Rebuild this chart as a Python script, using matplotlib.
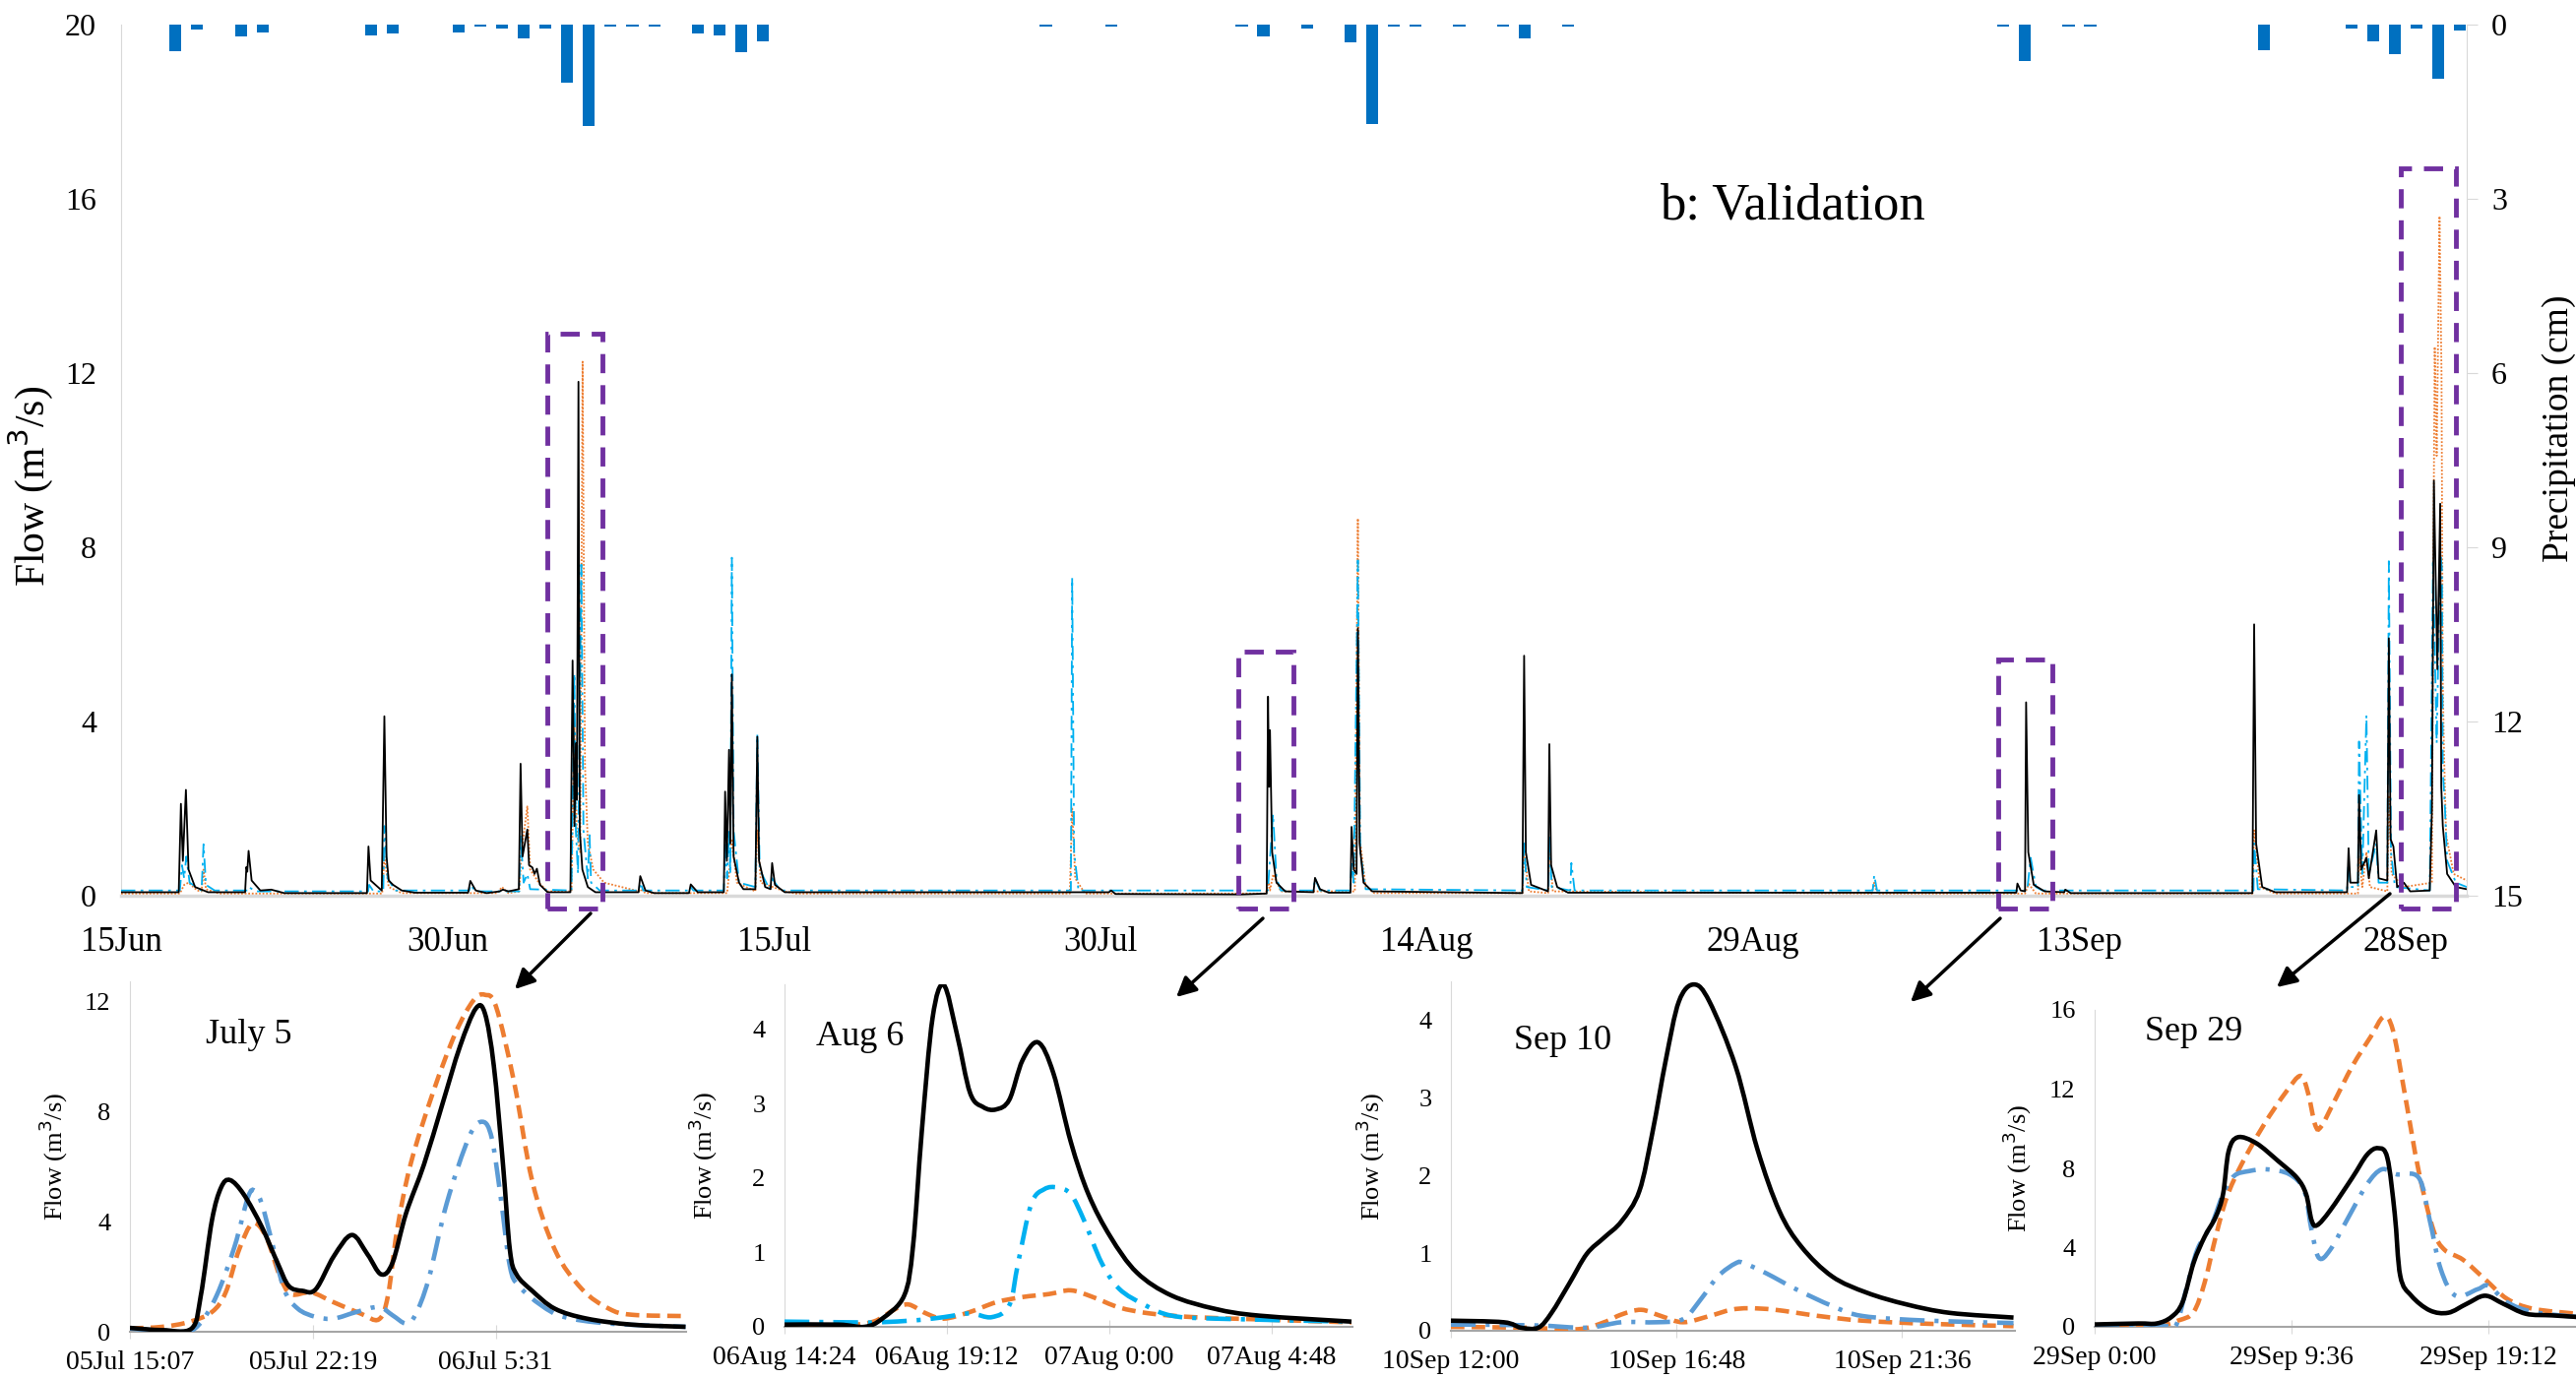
import matplotlib
matplotlib.use("Agg")
import matplotlib.pyplot as plt
from matplotlib.patches import Rectangle, PathPatch
from matplotlib.path import Path

plt.rcParams['font.family'] = ['Liberation Serif', 'DejaVu Serif']

# --- colours ---
C_OBS = "#000000"
C_MOD1 = "#00B0F0"
C_MOD1_INSET = "#5B9BD5"
C_MOD2 = "#ED7D31"
C_RAIN = "#0070C0"
C_BOX = "#7030A0"
C_AXIS = "#D9D9D9"

# --- main panel: days since 15 Jun ---
tick_days = [0, 15, 30, 45, 60, 75, 90, 105]
tick_labels = ["15Jun", "30Jun", "15Jul", "30Jul", "14Aug", "29Aug", "13Sep", "28Sep"]

rain_day = [2, 3, 5, 6, 11, 12, 15, 16, 17, 18, 19, 20, 21, 22, 23, 24, 26, 27, 28, 29,
            42, 45, 51, 52, 54, 56, 57, 58, 59, 61, 63, 64, 66, 86, 87, 89, 90, 98,
            102, 103, 104, 105, 106, 107]
rain_cm = [0.46, 0.09, 0.21, 0.14, 0.19, 0.16, 0.14, 0.03, 0.06, 0.24, 0.06, 1.0, 1.74,
           0.03, 0.03, 0.03, 0.16, 0.19, 0.48, 0.29,
           0.03, 0.03, 0.03, 0.21, 0.06, 0.31, 1.72, 0.03, 0.03, 0.03, 0.03, 0.24, 0.03,
           0.03, 0.62, 0.03, 0.03, 0.44, 0.06, 0.28, 0.51, 0.06, 0.94, 0.1]

obs_day = [0, 2.65, 2.75, 2.84, 2.98, 3.1, 3.4, 4.0, 5.7, 5.76, 5.8, 5.86, 6.0, 6.4, 6.9, 7.5,
           11.3, 11.37, 11.47, 11.98, 12.1, 12.2, 12.3, 12.4, 12.5, 12.9, 13.5,
           15.95, 16.05, 16.3, 16.8, 17.4, 17.55, 17.8, 18.28, 18.36, 18.45, 18.67, 18.75,
           18.9, 19.0, 19.11, 19.25, 19.6, 20.65, 20.75, 20.84, 20.9, 20.95, 21.02, 21.08,
           21.2, 21.45, 21.8, 23.78, 23.86, 24.1, 24.5, 26.1, 26.18, 26.5,
           27.7, 27.76, 27.84, 27.94, 28.0, 28.07, 28.15, 28.4, 28.6, 29.15, 29.24, 29.32,
           29.6, 29.85, 29.92, 30.05, 30.5, 45.4, 45.5, 45.7, 51.5,
           52.65, 52.71, 52.76, 52.8, 52.9, 53.1, 53.5, 54.8, 54.87, 55.1, 55.5,
           56.5, 56.55, 56.65, 56.78, 56.84, 56.92, 57.1, 57.5,
           64.4, 64.48, 64.56, 64.8, 65.58, 65.64, 65.72, 66.0, 66.5,
           87.1, 87.15, 87.3, 87.5, 87.55, 87.65, 87.9, 88.4, 89.3, 89.35, 89.6,
           97.95, 98.03, 98.12, 98.4, 99.0,
           102.3, 102.37, 102.45, 102.8, 102.85, 102.95, 103.19, 103.3, 103.64, 103.75,
           104.15, 104.22, 104.3, 104.43, 104.6, 104.91, 105.2,
           106.1, 106.2, 106.29, 106.45, 106.58, 106.63, 106.7, 106.9, 107.3, 107.8]
obs_flow = [0.08, 0.08, 2.11, 0.8, 2.43, 0.6, 0.2, 0.08, 0.08, 0.66, 0.55, 1.03, 0.35, 0.12, 0.14, 0.06,
            0.06, 1.13, 0.35, 0.12, 4.12, 0.9, 0.35, 0.3, 0.25, 0.12, 0.07,
            0.07, 0.34, 0.12, 0.06, 0.1, 0.14, 0.1, 0.15, 3.03, 0.9, 1.52, 0.7,
            0.65, 0.5, 0.62, 0.25, 0.08, 0.08, 5.4, 1.6, 3.5, 2.2, 11.8, 1.5,
            0.6, 0.2, 0.08, 0.08, 0.45, 0.12, 0.06, 0.06, 0.26, 0.08,
            0.08, 2.39, 0.8, 3.35, 1.2, 5.08, 0.9, 0.3, 0.15, 0.15, 3.65, 0.8,
            0.2, 0.15, 0.75, 0.25, 0.08, 0.08, 0.12, 0.04, 0.03,
            0.05, 4.57, 2.5, 3.8, 1.0, 0.3, 0.1, 0.08, 0.41, 0.15, 0.07,
            0.07, 1.58, 0.6, 0.5, 6.14, 1.2, 0.3, 0.1,
            0.06, 5.51, 1.0, 0.25, 0.1, 3.48, 0.7, 0.2, 0.07,
            0.07, 0.28, 0.12, 0.1, 4.44, 1.0, 0.25, 0.1, 0.08, 0.14, 0.06,
            0.06, 6.23, 1.2, 0.2, 0.08,
            0.08, 1.09, 0.3, 0.3, 2.31, 0.6, 0.87, 0.4, 1.5, 0.4,
            0.35, 5.91, 1.3, 1.13, 0.2, 0.3, 0.1,
            0.12, 2.0, 9.53, 5.2, 9.0, 2.5, 1.6, 0.5, 0.2, 0.15]

mod1_day = [0, 2.7, 2.8, 2.9, 3.0, 3.15, 3.7, 3.79, 3.9, 4.3, 5.8, 5.86, 6.2,
            11.35, 11.4, 11.6, 12.05, 12.1, 12.25, 12.6, 16.0, 16.05, 16.3,
            18.3, 18.36, 18.5, 18.67, 18.8, 20.7, 20.83, 20.9, 21.0, 21.15, 21.25, 21.45,
            21.53, 21.6, 22.0, 23.8, 23.86, 24.0, 26.1, 26.18, 26.3,
            27.7, 27.76, 27.85, 27.94, 28.0, 28.07, 28.15, 28.4, 29.15, 29.24, 29.35,
            29.8, 29.92, 30.3, 43.65, 43.71, 43.8, 44.0,
            52.7, 52.94, 53.1, 53.3, 54.8, 54.87, 55.1, 56.5, 56.55, 56.65, 56.84, 56.95, 57.2,
            64.4, 64.48, 64.6, 65.6, 65.64, 65.75, 66.6, 66.65, 66.8, 80.5, 80.57, 80.7,
            87.6, 87.76, 88.0, 88.3, 98.0, 98.03, 98.2,
            102.3, 102.37, 102.45, 102.8, 102.85, 103.0, 103.19, 103.3, 103.64, 103.75,
            104.15, 104.22, 104.32, 104.5,
            106.1, 106.25, 106.42, 106.58, 106.66, 106.7, 106.8, 106.9, 107.3, 107.8]
mod1_flow = [0.12, 0.12, 0.7, 0.4, 0.9, 0.3, 0.12, 1.18, 0.25, 0.12, 0.12, 0.2, 0.1,
             0.1, 0.25, 0.1, 0.1, 1.6, 0.4, 0.12, 0.12, 0.25, 0.1,
             0.1, 1.4, 0.3, 0.5, 0.15, 0.12, 5.1, 1.5, 0.5, 7.6, 1.5, 0.4,
             1.39, 0.3, 0.12, 0.12, 0.3, 0.12, 0.12, 0.2, 0.12,
             0.12, 1.2, 0.4, 1.5, 0.5, 7.76, 1.5, 0.3, 0.2, 3.7, 0.6,
             0.15, 0.4, 0.12, 0.12, 7.3, 1.0, 0.12,
             0.12, 1.87, 0.4, 0.12, 0.12, 0.4, 0.12, 0.12, 0.8, 0.3, 7.7, 1.0, 0.15,
             0.12, 1.2, 0.2, 0.12, 1.4, 0.2, 0.12, 0.75, 0.12, 0.12, 0.47, 0.12,
             0.12, 0.87, 0.2, 0.12, 0.12, 1.2, 0.15,
             0.12, 0.8, 0.2, 0.2, 3.54, 0.5, 4.14, 0.5, 1.2, 0.3,
             0.3, 7.68, 1.0, 0.2,
             0.12, 7.65, 3.5, 7.95, 7.5, 2.9, 2.0, 0.8, 0.3, 0.2]

mod2_day = [0, 2.7, 2.9, 3.1, 3.5, 3.7, 3.79, 3.9, 4.5, 12.0, 12.1, 12.3, 12.9, 17.3, 17.5, 17.8,
            18.3, 18.4, 18.67, 18.8, 19.2, 19.6, 20.7, 20.83, 20.95, 21.1, 21.21, 21.32,
            21.45, 21.7, 22.2, 23.8, 23.86, 24.1, 27.85, 27.94, 28.07, 28.3, 29.15, 29.24,
            29.4, 30.5, 31.0, 43.6, 43.71, 43.85, 44.3, 52.6, 52.75, 52.8, 52.95, 53.3,
            56.7, 56.84, 56.93, 57.2, 57.6, 64.4, 64.48, 64.7, 65.58, 65.64, 65.8,
            80.45, 80.57, 80.7, 87.5, 87.67, 88.0, 97.95, 98.03, 98.3, 99.0,
            102.8, 102.85, 103.0, 103.19, 103.35, 104.15, 104.22, 104.35, 104.9,
            106.2, 106.25, 106.33, 106.42, 106.55, 106.64, 106.7, 106.75, 106.85, 107.2, 107.8]
mod2_flow = [0.05, 0.05, 0.25, 0.3, 0.12, 0.1, 0.6, 0.15, 0.05, 0.05, 0.9, 0.2, 0.06, 0.06, 0.2, 0.06,
             0.1, 1.0, 2.05, 0.6, 0.3, 0.1, 0.1, 3.9, 1.4, 1.0, 12.26, 3.0,
             1.2, 0.6, 0.3, 0.1, 0.15, 0.06, 0.06, 0.5, 1.3, 0.3, 0.1, 1.5,
             0.3, 0.1, 0.05, 0.05, 2.0, 0.4, 0.05, 0.05, 0.3, 0.12, 0.49, 0.1,
             0.1, 8.66, 1.3, 0.2, 0.06, 0.06, 1.0, 0.1, 0.06, 1.2, 0.1,
             0.05, 0.3, 0.05, 0.05, 0.27, 0.05, 0.05, 1.5, 0.2, 0.05,
             0.05, 0.9, 0.2, 1.0, 0.2, 0.1, 2.3, 0.5, 0.2,
             0.3, 6.5, 12.6, 10.1, 15.6, 12.0, 4.9, 3.4, 1.4, 0.5, 0.35]

# highlighted events (day range and top of the dashed box)
box_start = [19.58, 51.33, 86.25, 104.78]
box_end = [22.1, 53.87, 88.77, 107.3]
box_top = [12.9, 5.6, 5.43, 16.7]

# --- inset events: hours since start of each window ---
ev_titles = ["July 5", "Aug 6", "Sep 10", "Sep 29"]
ev_ticks = [[0, 7.2, 14.4], [0, 4.8, 9.6, 14.4], [0, 4.8, 9.6], [0, 9.6, 19.2]]
ev_ticklabels = [["05Jul 15:07", "05Jul 22:19", "06Jul 5:31"],
                 ["06Aug 14:24", "06Aug 19:12", "07Aug 0:00", "07Aug 4:48"],
                 ["10Sep 12:00", "10Sep 16:48", "10Sep 21:36"],
                 ["29Sep 0:00", "29Sep 9:36", "29Sep 19:12"]]
ev_xmax = [21.9, 16.8, 12.0, 23.5]
ev_ymax = [12.75, 4.6, 4.5, 16.0]
ev_yticks = [[0, 4, 8, 12], [0, 1, 2, 3, 4], [0, 1, 2, 3, 4], [0, 4, 8, 12, 16]]

# July 5
j5_obs_h = [0, 1.28, 2.43, 2.79, 3.23, 3.59, 3.94, 4.48, 5.19, 5.81, 6.25, 6.79, 7.32, 8.03,
            8.74, 9.36, 9.89, 10.34, 10.87, 11.58, 12.29, 13.0, 13.62, 13.98, 14.33, 14.69,
            14.96, 15.22, 15.84, 16.73, 17.98, 19.75, 21.88]
j5_obs = [0.14, 0.06, 0.12, 1.31, 4.06, 5.25, 5.52, 5.0, 3.82, 2.51, 1.67, 1.49, 1.55, 2.75,
          3.52, 2.81, 2.09, 2.51, 4.3, 6.09, 8.24, 10.39, 11.76, 11.58, 9.67, 6.09,
          2.99, 2.09, 1.49, 0.84, 0.48, 0.26, 0.18]
j5_mod1_h = [0, 1.99, 2.7, 3.41, 4.12, 4.65, 4.92, 5.19, 5.54, 6.07, 6.61, 7.32, 8.03, 8.92,
             9.8, 10.34, 10.87, 11.23, 11.76, 12.47, 13.36, 13.89, 14.25, 14.6, 14.96, 15.31,
             16.2, 17.09, 18.86, 21.88]
j5_mod1 = [0.12, 0.0, 0.24, 1.31, 3.1, 4.9, 5.13, 4.66, 3.46, 1.55, 0.84, 0.54, 0.48, 0.72,
           0.9, 0.6, 0.3, 0.6, 1.91, 4.66, 7.1, 7.64, 7.04, 4.9, 2.39, 1.67,
           0.96, 0.54, 0.3, 0.18]
j5_mod2_h = [0, 1.28, 2.34, 3.23, 3.77, 4.3, 4.83, 5.36, 5.9, 6.34, 7.14, 8.03, 9.09, 9.8,
             10.16, 10.52, 11.05, 11.94, 12.82, 13.53, 13.98, 14.42, 15.13, 15.84, 16.73,
             17.8, 18.86, 19.75, 21.88]
j5_mod2 = [0.12, 0.18, 0.36, 0.72, 1.43, 2.99, 3.94, 3.46, 2.03, 1.37, 1.43, 1.07, 0.66, 0.45,
           1.31, 3.7, 6.09, 8.72, 10.87, 12.06, 12.26, 11.82, 9.07, 5.49, 2.99,
           1.55, 0.84, 0.62, 0.57]

# Aug 6
a6_obs_h = [0, 1.6, 2.37, 2.89, 3.54, 3.8, 4.06, 4.38, 4.71, 5.1, 5.49, 5.88, 6.26, 6.65,
            7.04, 7.5, 7.95, 8.47, 8.99, 9.64, 10.42, 11.45, 12.75, 14.05, 16.77]
a6_obs = [0.03, 0.03, 0.0, 0.11, 0.42, 1.08, 2.62, 4.15, 4.59, 3.93, 3.14, 2.95, 2.92, 3.05,
          3.58, 3.82, 3.41, 2.48, 1.78, 1.21, 0.73, 0.42, 0.24, 0.15, 0.07]
a6_mod1_h = [0, 2.11, 2.76, 3.93, 4.71, 5.49, 6.13, 6.65, 6.91, 7.3, 7.69, 8.08, 8.47, 8.86,
             9.38, 9.9, 10.67, 11.45, 12.75, 16.77]
a6_mod1 = [0.07, 0.06, 0.06, 0.09, 0.13, 0.18, 0.13, 0.29, 0.86, 1.65, 1.85, 1.87, 1.78, 1.43,
           0.86, 0.51, 0.29, 0.15, 0.11, 0.07]
a6_mod2_h = [0, 1.72, 2.63, 3.28, 3.67, 4.19, 4.71, 5.49, 6.26, 7.04, 7.82, 8.47, 9.12, 9.9,
             10.8, 12.1, 14.05, 16.77]
a6_mod2 = [0.02, 0.02, 0.07, 0.24, 0.3, 0.18, 0.11, 0.2, 0.33, 0.4, 0.44, 0.49, 0.4, 0.26,
           0.18, 0.13, 0.1, 0.06]

# Sep 10
s10_obs_h = [0, 1.12, 1.49, 1.86, 2.14, 2.52, 2.89, 3.26, 3.63, 4.01, 4.29, 4.57, 4.85, 5.17,
             5.5, 6.06, 6.52, 6.99, 7.46, 8.11, 8.85, 9.69, 10.62, 11.97]
s10_obs = [0.13, 0.11, 0.04, 0.04, 0.23, 0.61, 0.99, 1.2, 1.41, 1.8, 2.56, 3.48, 4.24, 4.46,
           4.24, 3.4, 2.34, 1.54, 1.08, 0.7, 0.49, 0.34, 0.23, 0.17]
s10_mod1_h = [0, 1.77, 2.89, 3.63, 4.38, 4.94, 5.31, 5.68, 6.06, 6.24, 6.71, 7.36, 8.11, 8.76,
              10.16, 11.97]
s10_mod1 = [0.08, 0.07, 0.04, 0.11, 0.11, 0.15, 0.4, 0.7, 0.87, 0.87, 0.74, 0.53, 0.32, 0.19,
            0.13, 0.1]
s10_mod2_h = [0, 1.58, 2.7, 3.26, 3.63, 4.05, 4.47, 4.94, 5.5, 5.96, 6.34, 6.9, 7.83, 8.76,
              10.16, 11.97]
s10_mod2 = [0.05, 0.04, 0.02, 0.11, 0.21, 0.27, 0.19, 0.11, 0.19, 0.27, 0.29, 0.27, 0.19, 0.13,
            0.09, 0.06]

# Sep 29
s29_obs_h = [0, 2.13, 3.03, 3.75, 4.29, 4.83, 5.37, 5.91, 6.27, 6.54, 6.99, 7.89, 8.97, 9.87,
             10.32, 10.59, 10.86, 11.5, 12.58, 13.3, 13.84, 14.29, 14.65, 14.92, 15.46, 16.36,
             17.26, 18.16, 19.06, 19.96, 21.05, 22.31, 23.53]
s29_obs = [0.12, 0.17, 0.17, 0.5, 1.24, 3.23, 4.55, 5.55, 6.71, 8.86, 9.57, 9.27, 8.36, 7.53,
           6.71, 5.38, 5.13, 5.88, 7.53, 8.69, 9.02, 8.53, 5.71, 2.57, 1.57, 0.83,
           0.71, 1.16, 1.57, 1.16, 0.66, 0.58, 0.5]
s29_mod1_h = [0, 3.21, 3.93, 4.47, 5.01, 5.73, 6.27, 6.81, 7.53, 8.43, 9.51, 10.23, 10.59, 10.95,
              11.5, 12.4, 13.3, 14.02, 14.74, 15.82, 16.36, 16.9, 17.62, 18.7, 19.24, 20.14,
              21.41, 23.53]
s29_mod1 = [0.08, 0.08, 0.0, 1.9, 3.89, 5.22, 6.71, 7.62, 7.86, 7.95, 7.7, 6.87, 4.88, 3.48,
            3.89, 5.55, 7.2, 7.95, 7.7, 7.53, 5.38, 2.9, 1.57, 1.9, 2.07, 1.24,
            0.75, 0.5]
s29_mod2_h = [0, 3.03, 4.11, 4.83, 5.37, 5.91, 6.45, 7.17, 8.25, 9.33, 10.05, 10.41, 10.77, 11.05,
              11.68, 12.58, 13.48, 14.11, 14.56, 15.1, 15.82, 16.54, 17.08, 17.98, 19.06, 20.14,
              21.41, 23.53]
s29_mod2 = [0.08, 0.08, 0.33, 0.75, 2.24, 4.55, 6.54, 8.2, 10.18, 11.84, 12.67, 11.84, 10.18, 10.1,
            11.34, 13.16, 14.65, 15.65, 14.98, 12.0, 7.86, 4.88, 3.89, 3.39, 2.4, 1.41,
            0.91, 0.66]

events = [
    (j5_obs_h, j5_obs, j5_mod1_h, j5_mod1, j5_mod2_h, j5_mod2, C_MOD1_INSET),
    (a6_obs_h, a6_obs, a6_mod1_h, a6_mod1, a6_mod2_h, a6_mod2, C_MOD1),
    (s10_obs_h, s10_obs, s10_mod1_h, s10_mod1, s10_mod2_h, s10_mod2, C_MOD1_INSET),
    (s29_obs_h, s29_obs, s29_mod1_h, s29_mod1, s29_mod2_h, s29_mod2, C_MOD1_INSET),
]

W, H = 2617, 1401
fig = plt.figure(figsize=(W / 100, H / 100), dpi=100)


def px_rect(left, top, right, bottom):
    """Pixel box -> figure fraction rect."""
    return [left / W, 1 - bottom / H, (right - left) / W, (bottom - top) / H]


def smooth_line(ax, xs, ys, **kw):
    """Excel-style smoothed line: cubic Bezier segments through the given points."""
    n = len(xs)
    verts = [(xs[0], ys[0])]
    codes = [Path.MOVETO]
    for i in range(n - 1):
        p0 = (xs[max(i - 1, 0)], ys[max(i - 1, 0)])
        p1 = (xs[i], ys[i])
        p2 = (xs[i + 1], ys[i + 1])
        p3 = (xs[min(i + 2, n - 1)], ys[min(i + 2, n - 1)])
        c1 = (p1[0] + (p2[0] - p0[0]) / 6, p1[1] + (p2[1] - p0[1]) / 6)
        c2 = (p2[0] - (p3[0] - p1[0]) / 6, p2[1] - (p3[1] - p1[1]) / 6)
        verts += [c1, c2, p2]
        codes += [Path.CURVE4] * 3
    ax.add_patch(PathPatch(Path(verts, codes), fill=False, capstyle='butt', **kw))


# --- main panel ---
ax = fig.add_axes(px_rect(123, 25, 2506, 910))
ax.plot(mod2_day, mod2_flow, color=C_MOD2, lw=1.3, ls=(0, (1, 1)), zorder=3)
ax.plot(mod1_day, mod1_flow, color=C_MOD1, lw=1.3, ls=(0, (8, 3, 1.5, 3)), zorder=4)
ax.plot(obs_day, obs_flow, color=C_OBS, lw=1.3, zorder=5)

for s, e, t in zip(box_start, box_end, box_top):
    ax.add_patch(Rectangle((s, -0.3), e - s, t + 0.3, fill=False, ec=C_BOX, lw=3.5,
                           ls=(0, (4, 2.5)), clip_on=False, zorder=6))

ax.set_xlim(0, 107.8)
ax.set_ylim(0, 20)
ax.set_yticks([0, 4, 8, 12, 16, 20])
ax.set_xticks(tick_days)
ax.set_xticklabels(tick_labels)
ax.tick_params(axis='x', length=0, pad=22, labelsize=25)
ax.tick_params(axis='y', length=0, pad=18, labelsize=23)
for side in ['top', 'right']:
    ax.spines[side].set_visible(False)
ax.spines['left'].set_color(C_AXIS)
ax.spines['bottom'].set_color(C_AXIS)
ax.spines['bottom'].set_linewidth(2.5)
ax.set_ylabel("Flow (m$^3$/s)", fontsize=30)
ax.yaxis.set_label_coords(-0.028, 0.47)
ax.text(0.7125, 0.792, "b: Validation", transform=ax.transAxes, fontsize=38, ha='center', va='center')

# precipitation on inverted right axis
ax2 = ax.twinx()
ax2.bar([d + 0.5 for d in rain_day], rain_cm, width=0.55, color=C_RAIN, zorder=2)
ax2.set_ylim(15, 0)
ax2.set_yticks([0, 3, 6, 9, 12, 15])
ax2.tick_params(axis='y', length=8, color=C_AXIS, pad=10, labelsize=23)
for side in ['top', 'left', 'bottom']:
    ax2.spines[side].set_visible(False)
ax2.spines['right'].set_color(C_AXIS)
ax2.set_ylabel("Precipitation (cm)", fontsize=27)
ax2.yaxis.set_label_coords(1.032, 0.537)

# --- inset event panels ---
inset_boxes = [(132, 997, 697, 1353), (797, 1000, 1374, 1348),
               (1474, 997, 2047, 1352), (2128, 1026, 2617, 1348)]
title_pos = [(0.136, 0.848), (0.055, 0.845), (0.112, 0.83), (0.104, 0.93)]
ylabel_x = [-0.108, -0.114, -0.113, -0.127]

for i, (box, ev) in enumerate(zip(inset_boxes, events)):
    oh, ob, m1h, m1, m2h, m2, c1 = ev
    a = fig.add_axes(px_rect(*box))
    smooth_line(a, m2h, m2, ec=C_MOD2, lw=3.3, ls=(0, (3, 1.6)), zorder=3)
    smooth_line(a, m1h, m1, ec=c1, lw=3.3, ls=(0, (5.5, 2.2, 0.9, 2.2)), zorder=4)
    smooth_line(a, oh, ob, ec=C_OBS, lw=3.3, zorder=5)
    a.set_xlim(0, ev_xmax[i])
    a.set_ylim(0, ev_ymax[i])
    a.set_xticks(ev_ticks[i])
    a.set_xticklabels(ev_ticklabels[i])
    a.set_yticks(ev_yticks[i])
    a.tick_params(axis='x', direction='inout', length=10, color=C_AXIS, pad=9, labelsize=20)
    a.tick_params(axis='y', length=0, pad=14, labelsize=19)
    for side in ['top', 'right']:
        a.spines[side].set_visible(False)
    a.spines['left'].set_color(C_AXIS)
    a.spines['bottom'].set_color("#A6A6A6")
    a.spines['bottom'].set_linewidth(1.5)
    a.set_ylabel("Flow (m$^3$/s)", fontsize=19)
    a.yaxis.set_label_coords(ylabel_x[i], 0.5)
    a.text(title_pos[i][0], title_pos[i][1], ev_titles[i], transform=a.transAxes,
           fontsize=26, ha='left', va='center')

# --- arrows from the boxes down to the panels (pixel positions) ---
arrows = [((600, 928), (523, 1005)), ((1283, 933), (1195, 1013)),
          ((2032, 933), (1941, 1018)), ((2428, 908), (2313, 1003))]
for (x0, y0), (x1, y1) in arrows:
    fig.add_artist(plt.Annotation("", xy=(x1 / W, 1 - y1 / H), xytext=(x0 / W, 1 - y0 / H),
                                  xycoords='figure fraction', textcoords='figure fraction',
                                  arrowprops=dict(arrowstyle='-|>', lw=2.5, color='black',
                                                  mutation_scale=30, shrinkA=0, shrinkB=0)))

fig.savefig("out.png", dpi=100)
